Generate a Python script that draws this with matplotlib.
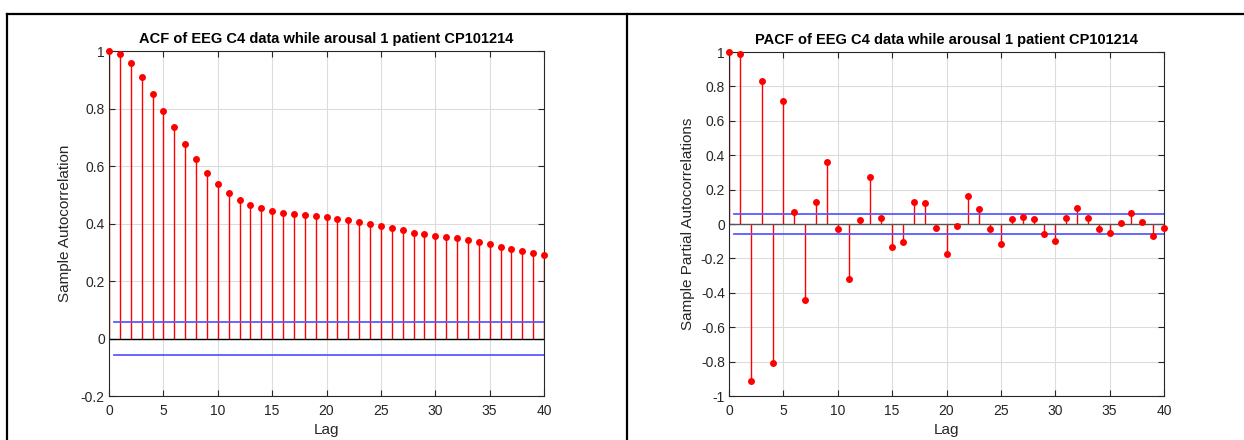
import matplotlib
matplotlib.use("Agg")
import matplotlib.pyplot as plt
from matplotlib.lines import Line2D
import numpy as np

plt.rcParams['font.family'] = ['Liberation Sans', 'DejaVu Sans']

lags = list(range(0, 41))
acf_vals = [1.0, 0.990, 0.957, 0.909, 0.852, 0.792, 0.734, 0.677, 0.626, 0.577,
            0.538, 0.506, 0.482, 0.466, 0.453, 0.445, 0.438, 0.434, 0.430, 0.427,
            0.422, 0.414, 0.411, 0.405, 0.400, 0.392, 0.384, 0.376, 0.367, 0.362,
            0.357, 0.352, 0.348, 0.342, 0.336, 0.329, 0.320, 0.312, 0.304, 0.296,
            0.289]
pacf_vals = [1.0, 0.987, -0.911, 0.830, -0.808, 0.717, 0.068, -0.444, 0.130, 0.359,
             -0.031, -0.322, 0.021, 0.271, 0.035, -0.134, -0.103, 0.126, 0.124, -0.023,
             -0.176, -0.009, 0.165, 0.089, -0.031, -0.118, 0.031, 0.041, 0.031, -0.056,
             -0.099, 0.035, 0.093, 0.035, -0.031, -0.050, 0.004, 0.064, 0.010, -0.068,
             -0.021]
conf_bound = 0.058

acf_title = "ACF of EEG C4 data while arousal 1 patient CP101214"
pacf_title = "PACF of EEG C4 data while arousal 1 patient CP101214"

W, H = 1244, 440
fig = plt.figure(figsize=(W / 100, H / 100), dpi=100)

axcol = '#262626'


def style(ax, ylim, yticks):
    ax.set_xlim(0, 40)
    ax.set_ylim(*ylim)
    ax.set_xticks(range(0, 41, 5))
    ax.set_yticks(yticks)
    ax.set_yticklabels([('%g' % (round(t, 1) + 0.0)) for t in yticks])
    ax.grid(True, color='#dcdcdc', linewidth=0.8)
    ax.set_axisbelow(True)
    ax.tick_params(direction='in', length=4, width=0.8, colors=axcol,
                   labelsize=10, top=True, right=True)
    ax.tick_params(axis='x', pad=6)
    ax.tick_params(axis='y', pad=3)
    for s in ax.spines.values():
        s.set_color(axcol)
        s.set_linewidth(0.8)
    ax.set_xlabel('Lag', fontsize=11, color=axcol, labelpad=3)


def stems(ax, x, y, zero_color):
    ml, sl, bl = ax.stem(x, y, linefmt='-', markerfmt='o', basefmt='-')
    plt.setp(sl, color='red', linewidth=1.0)
    plt.setp(ml, color='red', markersize=5, markeredgewidth=0)
    plt.setp(bl, color=zero_color, linewidth=1.0)
    ax.axhline(conf_bound, xmin=0.5 / 40, xmax=1, color='#5a5aff', linewidth=1.3)
    ax.axhline(-conf_bound, xmin=0.5 / 40, xmax=1, color='#5a5aff', linewidth=1.3)
    ml.set_zorder(4)
    ml.set_clip_on(False)


ax1 = fig.add_axes([109 / W, 44 / H, 435 / W, 345 / H])
stems(ax1, lags, acf_vals, 'black')
style(ax1, (-0.2, 1.0), list(np.round(np.arange(-0.2, 1.01, 0.2), 1)))
ax1.set_ylabel('Sample Autocorrelation', fontsize=11, color=axcol, labelpad=6)
ax1.set_title(acf_title, fontsize=10.5, fontweight='bold', color='black', pad=6)

ax2 = fig.add_axes([729 / W, 44 / H, 435 / W, 344 / H])
stems(ax2, lags, pacf_vals, '#555555')
style(ax2, (-1.0, 1.0), list(np.round(np.arange(-1.0, 1.01, 0.2), 1)))
ax2.set_ylabel('Sample Partial Autocorrelations', fontsize=11, color=axcol, labelpad=4)
ax2.set_title(pacf_title, fontsize=10.5, fontweight='bold', color='black', pad=6)


def fl(x0, y0, x1, y1):
    fig.add_artist(Line2D([x0 / W, x1 / W], [1 - y0 / H, 1 - y1 / H],
                          color='black', linewidth=1.6, transform=fig.transFigure))


fl(7, 14, W, 14)
fl(7, 14, 7, H)
fl(627, 14, 627, H)

fig.savefig('out.png', dpi=100, facecolor='white')
